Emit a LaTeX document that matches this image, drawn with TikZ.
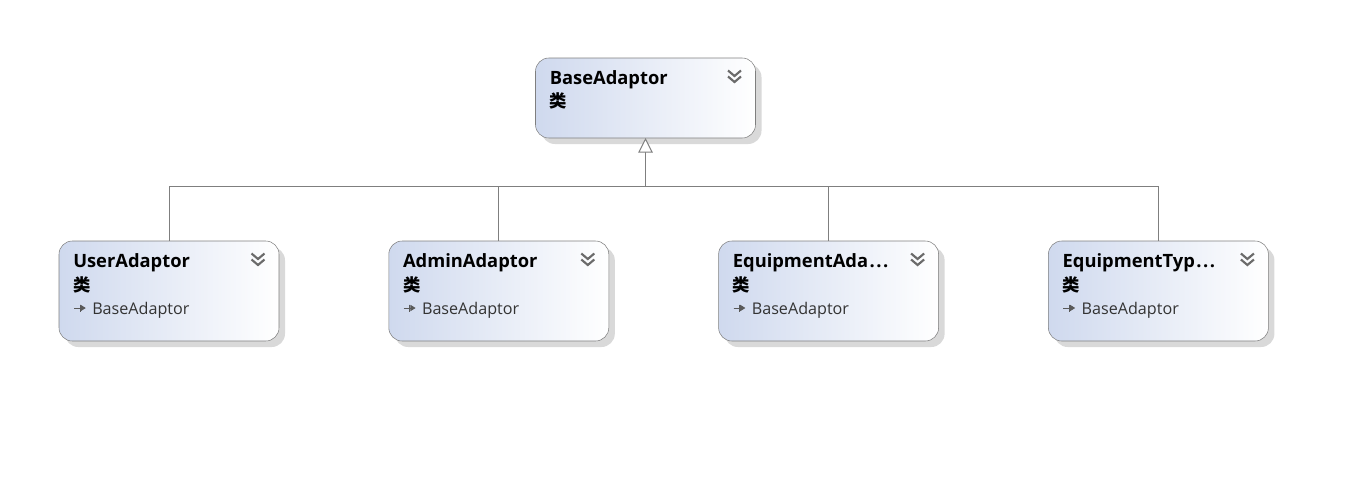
\documentclass[tikz,border=0pt]{standalone}
\usepackage{fontspec}
\setmainfont{Open Sans}
\newfontfamily\cjkfont{Noto Sans CJK SC}
\usetikzlibrary{positioning,arrows.meta,shadows,calc}
\definecolor{edgegray}{HTML}{7F7F7F}
\definecolor{boxblue}{HTML}{CFD9EE}
\newcommand{\chevrons}[1]{%
  \draw[chev, shift={(#1.north east)}] (-27.5,12.5) -- (-21,18) -- (-14.5,12.5)
    (-27.5,18.5) -- (-21,24) -- (-14.5,18.5);}
\newcommand{\inherits}[1]{%
  \draw[icon, shift={(#1.north west)}] (15,67) -- (24,67) (21,63.5) -- (21,70.5);
  \fill[icon, shift={(#1.north west)}] (26,67) -- (22,64.5) -- (22,69.5) -- cycle;}
\newcommand{\cut}{\kern1.1pt.\kern1.1pt.\kern1.1pt.}

\begin{document}
\begin{tikzpicture}[
  x=0.75pt, y=-0.75pt,
  node distance=82.35pt,
  classbox/.style={draw=edgegray, rounded corners=10pt, left color=boxblue, right color=white,
              minimum width=165pt, minimum height=75pt, inner sep=0pt, outer sep=0pt,
              general shadow={shadow xshift=4.5pt, shadow yshift=-4.5pt, fill=black!15}},
  title/.style={anchor=base west, inner sep=0pt, font=\fontsize{13.75}{16}\selectfont\bfseries},
  kind/.style={anchor=base west, inner sep=0pt, font=\fontsize{13}{15}\selectfont\cjkfont\bfseries},
  parent/.style={anchor=base west, inner sep=0pt, text=black!80, font=\fontsize{12.1}{15}\selectfont},
  chev/.style={draw=black!58, line width=1.6pt},
  icon/.style={draw=black!65, fill=black!65, line width=0.6pt},
  conn/.style={draw=edgegray, line width=0.75pt},
  arr/.style={conn, -{Triangle[open, fill=white, length=11pt, width=11pt]}}
]
  \useasboundingbox (0,0) rectangle (1355,494);

  \node[classbox, minimum height=60pt] (base) at (645.5,98) {};
  \node[classbox] (user) at (169,291) {};
  \node[classbox, right=of user] (admin) {};
  \node[classbox, right=of admin] (equip) {};
  \node[classbox, right=of equip] (etype) {};

  \coordinate[below=36pt of base.south] (bus);

  \draw[conn] (user) |- (bus);
  \draw[conn] (admin) |- (bus);
  \draw[conn] (equip) |- (bus);
  \draw[conn] (etype) |- (bus);
  \draw[arr] (bus) -- (base);

  % base class
  \node[title] (basename) at ($(base.north west)+(14,26)$) {BaseAdaptor};
  \node[kind] (basekind) at ($(base.north west)+(14,49.5)$) {类};
  \chevrons{base}

  % derived classes
  \node[title] (username) at ($(user.north west)+(14,26)$) {UserAdaptor};
  \node[kind] (userkind) at ($(user.north west)+(14,50.5)$) {类};
  \node[parent] (userparent) at ($(user.north west)+(33,73)$) {BaseAdaptor};
  \chevrons{user}
  \inherits{user}

  \node[title] (adminname) at ($(admin.north west)+(14,26)$) {AdminAdaptor};
  \node[kind] (adminkind) at ($(admin.north west)+(14,50.5)$) {类};
  \node[parent] (adminparent) at ($(admin.north west)+(33,73)$) {BaseAdaptor};
  \chevrons{admin}
  \inherits{admin}

  \node[title] (equipname) at ($(equip.north west)+(14,26)$) {EquipmentAda\cut};
  \node[kind] (equipkind) at ($(equip.north west)+(14,50.5)$) {类};
  \node[parent] (equipparent) at ($(equip.north west)+(33,73)$) {BaseAdaptor};
  \chevrons{equip}
  \inherits{equip}

  \node[title] (etypename) at ($(etype.north west)+(14,26)$) {EquipmentTyp\cut};
  \node[kind] (etypekind) at ($(etype.north west)+(14,50.5)$) {类};
  \node[parent] (etypeparent) at ($(etype.north west)+(33,73)$) {BaseAdaptor};
  \chevrons{etype}
  \inherits{etype}
\end{tikzpicture}
\end{document}
